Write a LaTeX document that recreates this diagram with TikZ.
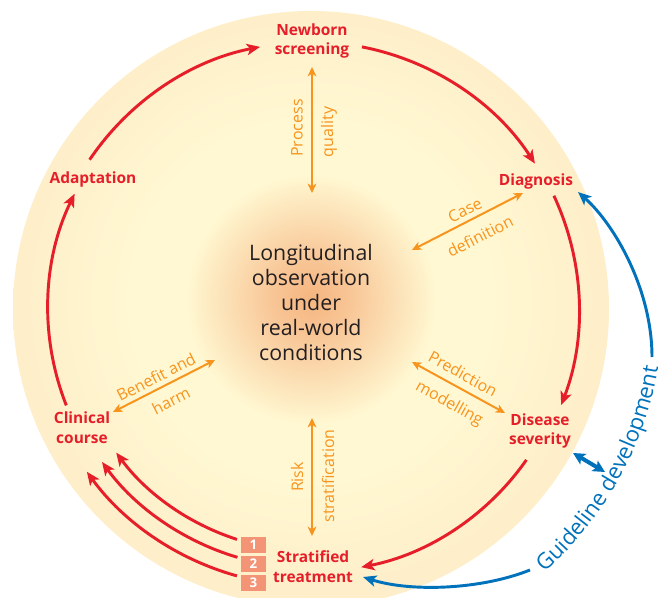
\documentclass[tikz,border=0pt]{standalone}
\usepackage{fontspec}
\setmainfont{Open Sans}
\usetikzlibrary{arrows.meta,decorations.text,calc}
\definecolor{cred}{RGB}{230,30,42}
\definecolor{corange}{RGB}{247,148,29}
\definecolor{cblue}{RGB}{0,114,188}
\definecolor{csalmon}{RGB}{243,148,118}
\definecolor{ctext}{RGB}{35,31,32}
\definecolor{glowA}{RGB}{245,182,128}
\definecolor{glowB}{RGB}{248,196,148}
\definecolor{bgin}{RGB}{255,248,210}
\definecolor{bgmid}{RGB}{254,237,200}
\definecolor{bgout}{RGB}{250,216,186}
\pgfdeclareradialshading{bgshade}{\pgfpoint{0bp}{1bp}}{color(0bp)=(glowA); color(3bp)=(glowB); color(10.5bp)=(bgin); color(15bp)=(bgin); color(26bp)=(bgmid); color(35.4bp)=(bgout); color(50bp)=(bgout)}
\newcommand\gdfont{\fontsize{16.5}{18}\selectfont}
\tikzset{
  rlabel/.style={text=cred, font=\bfseries\fontsize{11.6}{14.8}\selectfont, align=center, inner sep=0pt},
  olabel/.style={text=corange, font=\fontsize{12}{13}\selectfont, inner sep=0pt},
  redarr/.style={draw=cred, line width=2.2pt, -{Stealth[length=10pt,width=8.5pt,inset=2.5pt]}},
  orarr/.style={draw=corange, line width=1.5pt, {Stealth[length=7pt,width=6.5pt,inset=2pt]}-{Stealth[length=7pt,width=6.5pt,inset=2pt]}},
  bluearr/.style={draw=cblue, line width=2.2pt, -{Stealth[length=10pt,width=8.5pt,inset=2.5pt]}},
  numbox/.style={fill=csalmon, text=white, font=\bfseries\fontsize{10}{12}\selectfont, minimum width=18.75pt, minimum height=12pt, inner sep=0pt}
}
\begin{document}
\begin{tikzpicture}[x=0.75pt,y=-0.75pt]
\useasboundingbox (0,0) rectangle (664,598);
\clip (0,0) rectangle (664,598);
\coordinate (C) at (311,309);
\shade[shading=bgshade] (C) circle (298);

% central text
\node[text=ctext, font=\fontsize{16}{18.75}\selectfont, align=center, inner sep=0pt] (ctr) at (311,303)
  {Longitudinal\\observation\\under\\real-world\\conditions};

% stage labels
\node[rlabel] (ns) at (312,41) {Newborn\\screening};
\node[rlabel] (dg) at (536,181) {Diagnosis};
\node[rlabel] (ds) at (540,431) {Disease\\severity};
\node[rlabel] (st) at (313,567) {Stratified\\treatment};
\node[rlabel] (cc) at (82,428) {Clinical\\course};
\node[rlabel] (ad) at (93,179) {Adaptation};
\node[numbox] (n1) at (253.5,545) {1};
\node[numbox] (n2) at (253.5,564) {2};
\node[numbox] (n3) at (253.5,583) {3};

% red cycle arrows (concentric arcs)
\coordinate (r1) at ($(C)+(-79:267)$);
\draw[redarr] (r1) arc[start angle=-79, end angle=-33, radius=267];
\coordinate (r2) at ($(C)+(-25:268)$);
\draw[redarr] (r2) arc[start angle=-25, end angle=21, radius=268];
\coordinate (r3) at ($(C)+(35:263)$);
\draw[redarr] (r3) arc[start angle=35, end angle=79, radius=263];
\coordinate (r4a) at ($(C)+(107.8:242)$);
\draw[redarr] (r4a) arc[start angle=107.8, end angle=143.6, radius=242];
\coordinate (r4b) at ($(C)+(106.5:259)$);
\draw[redarr] (r4b) arc[start angle=106.5, end angle=143.8, radius=259];
\coordinate (r4c) at ($(C)+(105.5:277)$);
\draw[redarr] (r4c) arc[start angle=105.5, end angle=144, radius=277];
\coordinate (r5) at ($(C)+(158.5:263)$);
\draw[redarr] (r5) arc[start angle=158.5, end angle=206, radius=263];
\coordinate (r6) at ($(C)+(214:267)$);
\draw[redarr] (r6) arc[start angle=214, end angle=259, radius=267];

% orange double arrows
\coordinate (pqa) at (312,67); \coordinate (pqb) at (312,193);
\draw[orarr] (pqa) -- (pqb);
\node[olabel, rotate=90] (pq1) at (297,128) {Process};
\node[olabel, rotate=90] (pq2) at (329,132) {quality};

\coordinate (rsa) at (312,418); \coordinate (rsb) at (312,536);
\draw[orarr] (rsa) -- (rsb);
\node[olabel, rotate=90] (rs1) at (297,477) {Risk};
\node[olabel, rotate=90] (rs2) at (328,476) {stratification};

\coordinate (cda) at (412,250); \coordinate (cdb) at (523,193);
\draw[orarr] (cda) -- (cdb);
\node[olabel, rotate=27] (cd1) at (465,210) {Case};
\node[olabel, rotate=27] (cd2) at (480,236) {definition};

\coordinate (pma) at (412,362); \coordinate (pmb) at (505,413);
\draw[orarr] (pma) -- (pmb);
\node[olabel, rotate=-29] (pm1) at (463,374) {Prediction};
\node[olabel, rotate=-29] (pm2) at (449,404) {modelling};

\coordinate (bha) at (113,412); \coordinate (bhb) at (215,360);
\draw[orarr] (bha) -- (bhb);
\node[olabel, rotate=27] (bh1) at (156,377) {Benefit and};
\node[olabel, rotate=27] (bh2) at (171,401) {harm};

% blue guideline arrows
\coordinate (b1s) at (652,357); \coordinate (b1e) at (578,192);
\draw[bluearr] (b1s) .. controls (652,290) and (615,225) .. (b1e);
\coordinate (b2a) at (573,453); \coordinate (b2b) at (605,472);
\draw[draw=cblue, line width=3pt, {Stealth[length=9pt,width=9pt,inset=2pt]}-{Stealth[length=9pt,width=9pt,inset=2pt]}] (b2a) -- (b2b);
\coordinate (b3s) at (530,570); \coordinate (b3e) at (363,577);
\draw[bluearr] (b3s) .. controls (480,590) and (410,592) .. (b3e);

\coordinate (g0) at ($(C)+(48:352)$);
\path[decorate, decoration={text along path, text align=center, text={|\gdfont\color{cblue}|Guideline development}}]
  (g0) arc[start angle=48, end angle=10, radius=352];
\end{tikzpicture}
\end{document}
